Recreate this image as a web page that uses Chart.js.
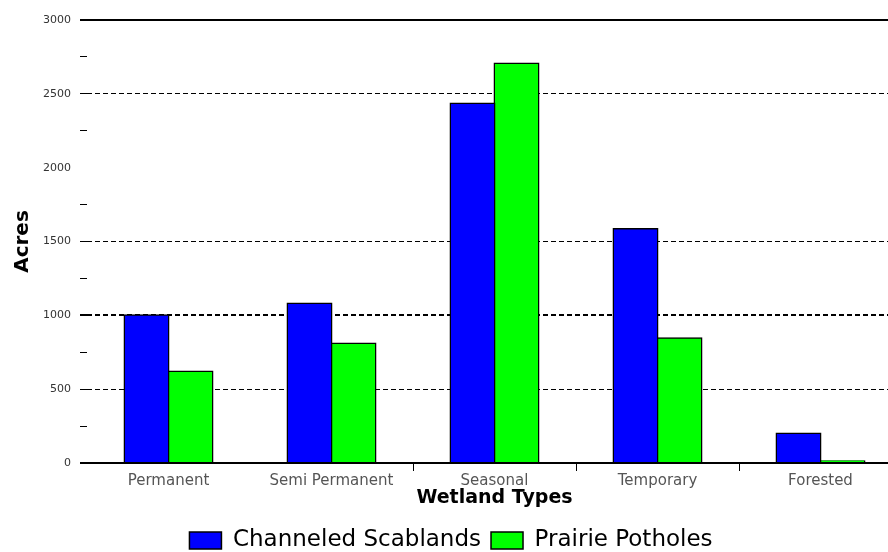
<!DOCTYPE html>
<html>
<head>
<meta charset="utf-8">
<script src="https://cdn.jsdelivr.net/npm/chart.js@4.4.1/dist/chart.umd.min.js"></script>
<style>
html, body { margin:0; padding:0; background:#fff; overflow:hidden; }
#wrap { position:relative; width:902px; height:552px; }
</style>
</head>
<body>
<div id="wrap"><canvas id="myChart"></canvas></div>
<script>
// Data
const categories = ['Permanent', 'Semi Permanent', 'Seasonal', 'Temporary', 'Forested'];
const scablands = [1000, 1080, 2435, 1585, 200];
const potholes = [620, 810, 2705, 845, 12];
const yLabels = [0, 500, 1000, 1500, 2000, 2500, 3000];
const dashedLines = [500, 1000, 1500, 2500];

Chart.defaults.font.family = '"DejaVu Sans", Arial, sans-serif';

// y grid styling per value
function yLineColor(v) {
  if (v === 0 || v === 3000 || dashedLines.includes(v)) return '#000';
  return 'rgba(0,0,0,0)';
}
function yLineWidth(v) {
  if (v === 0 || v === 3000 || v === 1000) return 2;
  return 1;
}

let ctx = document.getElementById('myChart').getContext('2d');
window.chart = new Chart(ctx, {
  type: 'bar',
  data: {
    labels: categories,
    datasets: [{
      label: 'Channeled Scablands',
      data: scablands,
      backgroundColor: '#0000ff',
      borderColor: '#000',
      borderWidth: 1.5,
      inflateAmount: 1,
      barPercentage: 1,
      categoryPercentage: 0.54
    }, {
      label: 'Prairie Potholes',
      data: potholes,
      backgroundColor: '#00ff00',
      borderColor: '#000',
      borderWidth: 1.5,
      inflateAmount: 1,
      barPercentage: 1,
      categoryPercentage: 0.54
    }]
  },
  options: {
    animation: false,
    responsive: true,
    maintainAspectRatio: false,
    layout: { padding: { top: 20, left: 0, right: 0, bottom: -10 } },
    plugins: {
      legend: {
        position: 'bottom',
        labels: { boxWidth: 32, boxHeight: 17, padding: 10, color: '#000', font: { size: 23 } }
      },
      tooltip: { enabled: false }
    },
    scales: {
      x: {
        afterFit: s => { s.height = 56; },
        border: { display: true, color: '#000', width: 2 },
        grid: {
          offset: true,
          drawOnChartArea: false,
          tickLength: 8,
          tickColor: c => (c.index >= 2 && c.index <= 4) ? '#000' : 'rgba(0,0,0,0)'
        },
        ticks: { color: '#555', padding: 1, font: { size: 15 } },
        title: {
          display: true, text: 'Wetland Types', color: '#000',
          font: { size: 19, weight: 'bold' }, padding: { top: 0, bottom: 10 }
        }
      },
      y: {
        min: 0, max: 3000,
        afterFit: s => { s.width = 87; },
        border: { display: false, dash: c => dashedLines.includes(c.tick && c.tick.value) ? [5, 3] : [] },
        grid: {
          tickLength: 7,
          color: c => yLineColor(c.tick.value),
          lineWidth: c => yLineWidth(c.tick.value),
          tickColor: c => c.tick.value === 2000 ? 'rgba(0,0,0,0)' : '#000',
          tickWidth: c => yLineWidth(c.tick.value)
        },
        ticks: {
          stepSize: 250,
          autoSkip: false,
          padding: 9,
          color: '#333',
          font: { size: 11 },
          callback: v => yLabels.includes(v) ? String(v) : ''
        },
        title: {
          display: true, text: 'Acres', color: '#000',
          font: { size: 20, weight: 'bold' }, padding: { top: 11, bottom: 0 }
        }
      }
    }
  }
});
</script>
</body>
</html>
